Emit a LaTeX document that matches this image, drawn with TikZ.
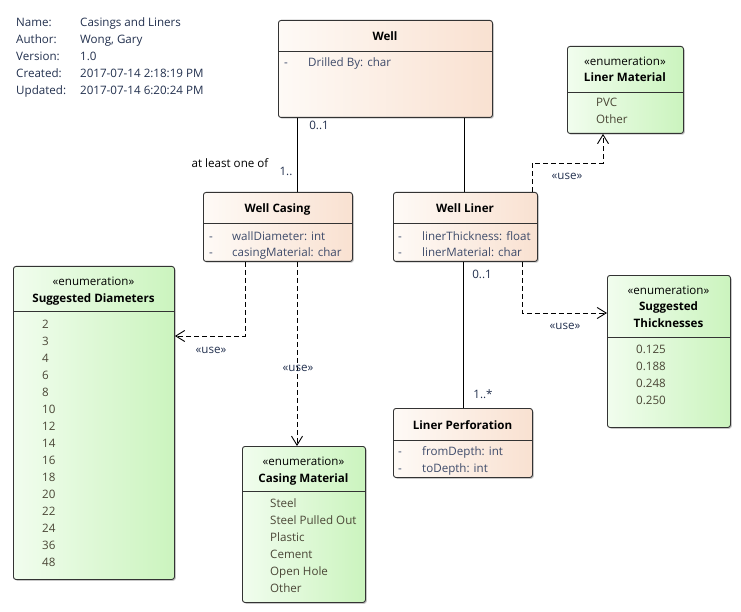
\documentclass[tikz,border=0pt]{standalone}
\usepackage{fontspec}
\setmainfont{Open Sans}
\usetikzlibrary{arrows.meta,shadows}

\definecolor{clsL}{HTML}{FEFAF6}
\definecolor{clsR}{HTML}{F9E1D1}
\definecolor{enmL}{HTML}{F1FDEE}
\definecolor{enmR}{HTML}{CBF4BE}
\definecolor{edge}{HTML}{333333}
\definecolor{meta}{HTML}{22304E}
\definecolor{attr}{HTML}{3E4B6A}
\definecolor{lit}{HTML}{4A4636}

\tikzset{
  box/.style={draw=edge, line width=0.9pt, rounded corners=2.5pt, inner sep=0pt,
    anchor=north west,
    drop shadow={shadow xshift=1.3pt, shadow yshift=-1.3pt, opacity=0.22, fill=black}},
  cls/.style={box, left color=clsL, right color=clsR},
  enm/.style={box, left color=enmL, right color=enmR},
  divider/.style={draw=edge, line width=0.9pt},
  txt/.style={inner sep=0pt, text height=9pt, text depth=1pt,
    font=\fontsize{11.6}{14}\selectfont},
  metatxt/.style={txt, anchor=west, text=meta},
  title/.style={txt, font=\fontsize{11.6}{14}\selectfont\bfseries, text=black},
  stereo/.style={txt, text=black},
  attrtxt/.style={txt, anchor=west, text=attr},
  littxt/.style={txt, anchor=west, text=lit},
  label/.style={txt, text=meta},
  assoc/.style={draw=black, line width=0.9pt},
  uses/.style={draw=black, line width=0.9pt, dash pattern=on 5pt off 3pt,
    -{Straight Barb[length=9pt,width=11pt,line width=0.9pt]}},
}

\begin{document}
\begin{tikzpicture}[x=1pt,y=-1pt]
\useasboundingbox (0,0) rectangle (741,612);

% diagram properties
\node[metatxt] (mk1) at (16,23) {Name:};
\node[metatxt] (mk2) at (16,40) {Author:};
\node[metatxt] (mk3) at (16,57) {Version:};
\node[metatxt] (mk4) at (16,74) {Created:};
\node[metatxt] (mk5) at (16,91) {Updated:};
\node[metatxt] (mv1) at (80,23) {Casings and Liners};
\node[metatxt] (mv2) at (80,40) {Wong, Gary};
\node[metatxt] (mv3) at (80,57) {1.0};
\node[metatxt] (mv4) at (80,74) {2017-07-14 2:18:19 PM};
\node[metatxt] (mv5) at (80,91) {2017-07-14 6:20:24 PM};

% classes
\node[cls, minimum width=214pt, minimum height=97pt] (well) at (278,20) {};
\draw[divider] (well.west |- 0,51) -- (well.east |- 0,51);
\node[title] (wellT) at (385,37) {Well};
\node[attrtxt] (wellD) at (284,63) {-};
\node[attrtxt] (wellA) at (308,63) {Drilled By: char};

\node[cls, minimum width=149pt, minimum height=69pt] (casing) at (203,192) {};
\draw[divider] (casing.west |- 0,223) -- (casing.east |- 0,223);
\node[title] (casingT) at (277.5,209) {Well Casing};
\node[attrtxt] (casingD1) at (209,237) {-};
\node[attrtxt] (casingA1) at (232,237) {wallDiameter: int};
\node[attrtxt] (casingD2) at (209,253) {-};
\node[attrtxt] (casingA2) at (232,253) {casingMaterial: char};

\node[cls, minimum width=144pt, minimum height=69pt] (liner) at (393,192) {};
\draw[divider] (liner.west |- 0,223) -- (liner.east |- 0,223);
\node[title] (linerT) at (465,209) {Well Liner};
\node[attrtxt] (linerD1) at (398,237) {-};
\node[attrtxt] (linerA1) at (422,237) {linerThickness: float};
\node[attrtxt] (linerD2) at (398,253) {-};
\node[attrtxt] (linerA2) at (422,253) {linerMaterial: char};

\node[cls, minimum width=139pt, minimum height=69pt] (perf) at (393,408) {};
\draw[divider] (perf.west |- 0,440) -- (perf.east |- 0,440);
\node[title] (perfT) at (462.5,425) {Liner Perforation};
\node[attrtxt] (perfD1) at (398,451) {-};
\node[attrtxt] (perfA1) at (422,451) {fromDepth: int};
\node[attrtxt] (perfD2) at (398,468) {-};
\node[attrtxt] (perfA2) at (422,468) {toDepth: int};

% enumerations
\node[enm, minimum width=116pt, minimum height=87pt] (linmat) at (567,46) {};
\draw[divider] (linmat.west |- 0,92) -- (linmat.east |- 0,92);
\node[stereo] (linmatS) at (625,62) {«enumeration»};
\node[title] (linmatT) at (625,78) {Liner Material};
\node[littxt] (linmatL1) at (596,103) {PVC};
\node[littxt] (linmatL2) at (596,120) {Other};

\node[enm, minimum width=161pt, minimum height=313pt] (diam) at (13,266) {};
\draw[divider] (diam.west |- 0,311) -- (diam.east |- 0,311);
\node[stereo] (diamS) at (93.5,281) {«enumeration»};
\node[title] (diamT) at (93.5,298) {Suggested Diameters};
\foreach \v [count=\i from 0] in {2,3,4,6,8,10,12,14,16,18,20,22,24,36,48}
  \node[littxt] (diamL\i) at (42,{324+17*\i}) {\v};

\node[enm, minimum width=123pt, minimum height=152pt] (thick) at (607,275) {};
\draw[divider] (thick.west |- 0,337) -- (thick.east |- 0,337);
\node[stereo] (thickS) at (668.5,290) {«enumeration»};
\node[title] (thickT1) at (668.5,306) {Suggested};
\node[title] (thickT2) at (668.5,323) {Thicknesses};
\foreach \v [count=\i from 0] in {0.125,0.188,0.248,0.250}
  \node[littxt] (thickL\i) at (636,{349+17*\i}) {\v};

\node[enm, minimum width=123pt, minimum height=156pt] (casmat) at (242,446) {};
\draw[divider] (casmat.west |- 0,491) -- (casmat.east |- 0,491);
\node[stereo] (casmatS) at (303.5,461) {«enumeration»};
\node[title] (casmatT) at (303.5,478) {Casing Material};
\foreach \v [count=\i from 0] in {Steel,Steel Pulled Out,Plastic,Cement,Open Hole,Other}
  \node[littxt] (casmatL\i) at (270,{503+17*\i}) {\v};

% associations
\draw[assoc] (297,0 |- well.south) -- (297,0 |- casing.north);
\draw[assoc] (464,0 |- well.south) -- (464,0 |- liner.north);
\draw[assoc] (463,0 |- liner.south) -- (463,0 |- perf.north);

% usage dependencies
\draw[uses] (532,0 |- liner.north) -- (532,163) -- (603,163) -- (603,0 |- linmat.south);
\draw[uses] (522,0 |- liner.south) -- (522,313) -- (thick.west |- 0,313);
\draw[uses] (245,0 |- casing.south) -- (245,336) -- (diam.east |- 0,336);
\draw[uses] (297,0 |- casing.south) -- (297,0 |- casmat.north);

% connector labels
\node[label] (m1) at (319,126) {0..1};
\node[label, text=black] (m2) at (230,164) {at least one of};
\node[label] (m3) at (286,172) {1..};
\node[label] (m4) at (482,275) {0..1};
\node[label] (m5) at (483,394) {1..*};
\node[label] (u1) at (567,176) {«use»};
\node[label] (u2) at (565,325) {«use»};
\node[label] (u3) at (211,349) {«use»};
\node[label] (u4) at (298,367) {«use»};
\end{tikzpicture}
\end{document}
